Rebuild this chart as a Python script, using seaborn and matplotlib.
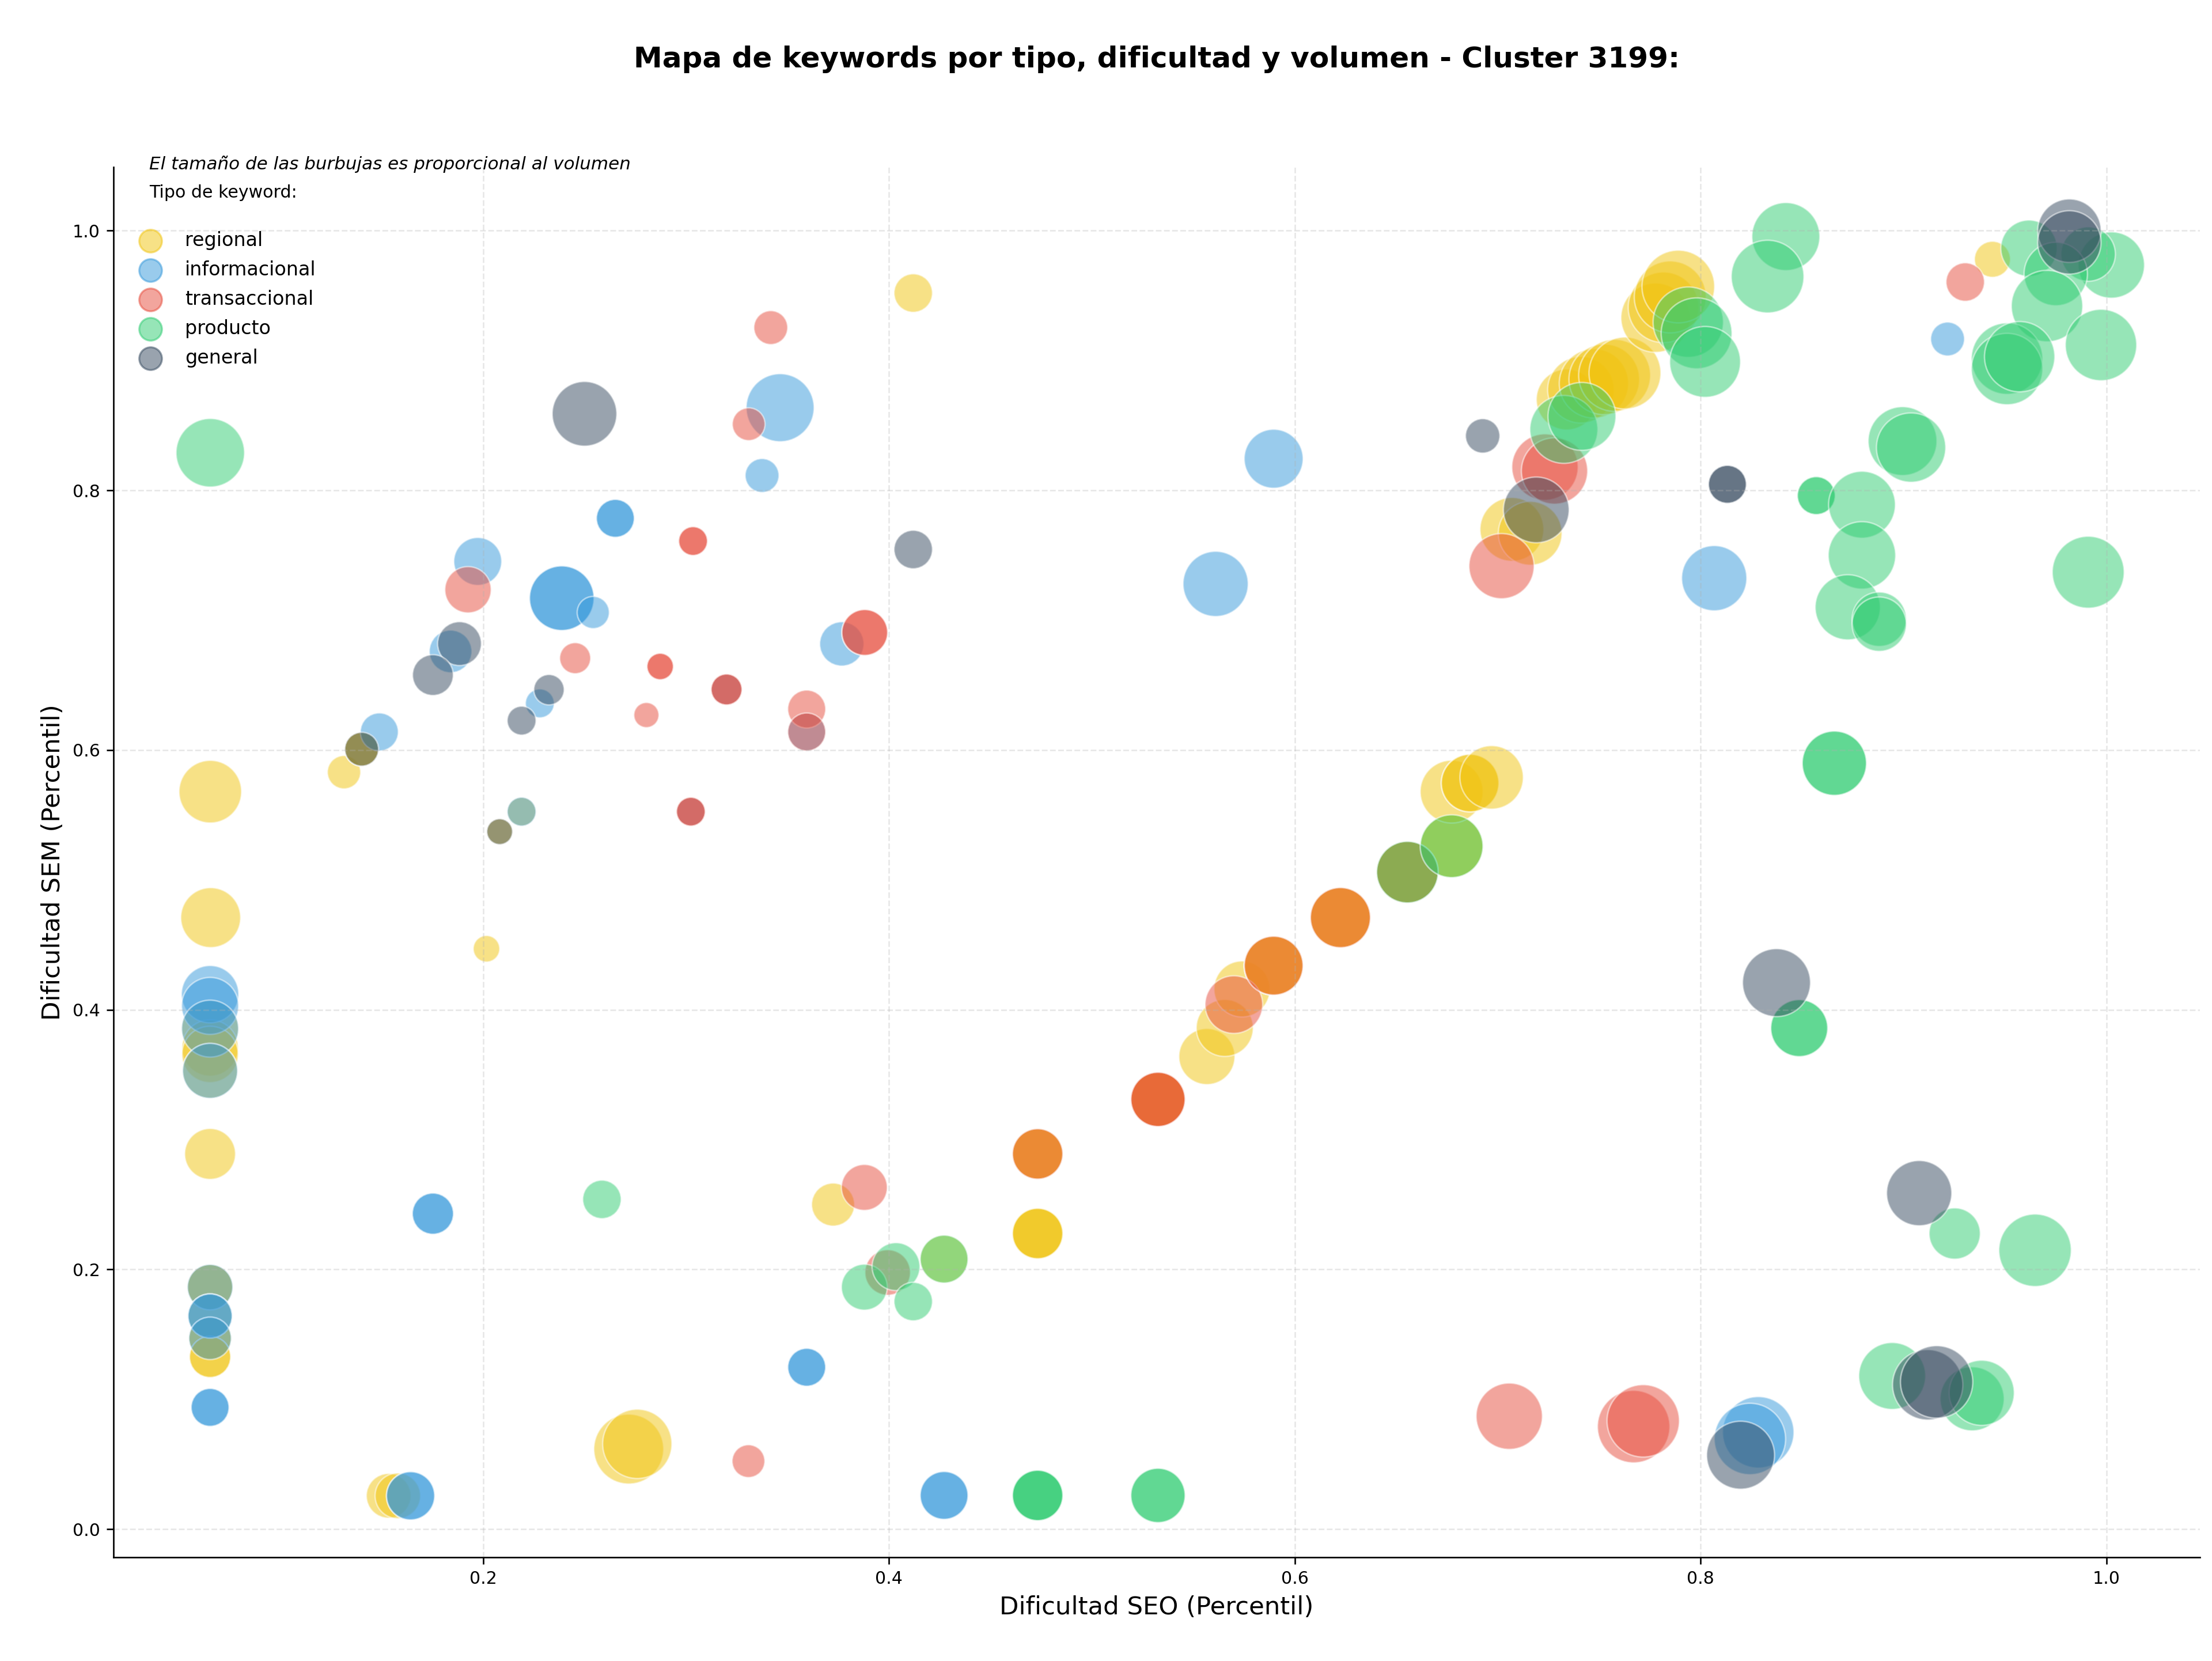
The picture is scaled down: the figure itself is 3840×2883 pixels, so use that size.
import pandas as pd
import numpy as np
import matplotlib.pyplot as plt
import seaborn as sns

tipos = ['regional', 'informacional', 'transaccional', 'producto', 'general']
colores = ['#f1c40f', '#3498db', '#e74c3c', '#2ecc71', '#34495e']

# regional
reg_seo = [0.412, 0.1315, 0.0656, 0.0658, 0.2017, 0.0655, 0.0655, 0.0655, 0.0655, 0.0655,
           0.0655, 0.0655, 0.0655, 0.0655, 0.0655, 0.0655, 0.0655, 0.1402, 0.1402, 0.2082,
           0.219, 0.1535, 0.158, 0.2718, 0.276, 0.3725, 0.4272, 0.4733, 0.4733, 0.4733,
           0.4733, 0.4733, 0.4733, 0.5326, 0.5326, 0.5326, 0.5567, 0.5655, 0.574, 0.5896,
           0.5896, 0.5896, 0.6225, 0.6225, 0.6225, 0.6555, 0.6555, 0.6555, 0.6773, 0.6773,
           0.6773, 0.6864, 0.6864, 0.697, 0.707, 0.716, 0.734, 0.741, 0.7474, 0.7525,
           0.7576, 0.7627, 0.7778, 0.7817, 0.785, 0.789, 0.9438]
reg_sem = [0.952, 0.583, 0.568, 0.471, 0.447, 0.3855, 0.3706, 0.3657, 0.353, 0.289,
           0.1864, 0.1864, 0.1642, 0.147, 0.147, 0.1327, 0.1327, 0.6007, 0.6007, 0.5372,
           0.5526, 0.0257, 0.0257, 0.0617, 0.0657, 0.25, 0.208, 0.2277, 0.2277, 0.2277,
           0.289, 0.289, 0.289, 0.331, 0.331, 0.331, 0.364, 0.386, 0.416, 0.434,
           0.434, 0.434, 0.471, 0.471, 0.471, 0.506, 0.506, 0.506, 0.526, 0.526,
           0.568, 0.5746, 0.5746, 0.579, 0.770, 0.767, 0.870, 0.8775, 0.8824, 0.8855,
           0.8886, 0.8904, 0.933, 0.941, 0.949, 0.957, 0.978]
reg_vol = [400, 300, 1060, 970, 190, 880, 860, 860, 820, 700,
           560, 560, 530, 490, 490, 460, 460, 310, 310, 180,
           225, 540, 560, 1320, 1300, 500, 620, 690, 690, 690,
           690, 690, 690, 800, 800, 800, 850, 880, 850, 940,
           940, 940, 980, 980, 980, 1030, 1030, 1030, 1070, 1070,
           1070, 900, 900, 1090, 1100, 1100, 1000, 1200, 1300, 1350,
           1400, 1400, 1300, 1350, 1400, 1430, 350]

# informacional
inf_seo = [0.3464, 0.3375, 0.5896, 0.561, 0.2652, 0.2652, 0.2388, 0.2388, 0.2543, 0.1974,
           0.184, 0.228, 0.1489, 0.3768, 0.3595, 0.32, 0.3024, 0.219, 0.0655, 0.0655,
           0.0655, 0.0655, 0.0655, 0.0655, 0.0655, 0.0655, 0.0655, 0.0655, 0.1753, 0.1753,
           0.1643, 0.1643, 0.3595, 0.3595, 0.4272, 0.4272, 0.8067, 0.9217, 0.8284, 0.8243]
inf_sem = [0.8637, 0.8115, 0.8244, 0.728, 0.7785, 0.7785, 0.717, 0.717, 0.706, 0.7453,
           0.676, 0.636, 0.614, 0.6818, 0.614, 0.6467, 0.5526, 0.5526, 0.412, 0.403,
           0.3855, 0.353, 0.1864, 0.1642, 0.1642, 0.147, 0.0938, 0.0938, 0.243, 0.243,
           0.0257, 0.0257, 0.1247, 0.1247, 0.026, 0.026, 0.7324, 0.9166, 0.0746, 0.0695]
inf_vol = [1250, 310, 940, 1150, 390, 390, 1130, 1130, 280, 620,
           490, 225, 390, 530, 390, 260, 225, 225, 890, 880,
           880, 820, 560, 530, 530, 490, 390, 390, 460, 460,
           630, 630, 390, 390, 620, 620, 1150, 310, 1380, 1380]

# transaccional
tra_seo = [0.3418, 0.3309, 0.3035, 0.3035, 0.1926, 0.3881, 0.3881, 0.2454, 0.2873, 0.2873,
           0.32, 0.32, 0.2805, 0.3595, 0.3595, 0.3024, 0.3024, 0.3308, 0.3879, 0.3994,
           0.4733, 0.5326, 0.5326, 0.57, 0.5896, 0.6225, 0.6555, 0.7233, 0.728, 0.7019,
           0.9304, 0.7057, 0.767, 0.7717]
tra_sem = [0.9254, 0.851, 0.761, 0.761, 0.7235, 0.6906, 0.6906, 0.6708, 0.6644, 0.6644,
           0.6467, 0.6467, 0.627, 0.6316, 0.614, 0.5526, 0.5526, 0.0524, 0.2632, 0.1977,
           0.289, 0.331, 0.331, 0.404, 0.434, 0.471, 0.506, 0.818, 0.815, 0.7417,
           0.9605, 0.087, 0.079, 0.0834]
tra_vol = [310, 290, 225, 225, 580, 570, 570, 260, 190, 190,
           260, 260, 170, 390, 390, 225, 225, 290, 570, 560,
           690, 800, 800, 900, 940, 980, 1030, 1190, 1190, 1150,
           400, 1190, 1420, 1420]

# producto
pro_seo = [0.0656, 0.2586, 0.3879, 0.4035, 0.412, 0.4272, 0.4733, 0.4733, 0.4733, 0.5326,
           0.5326, 0.6555, 0.6773, 0.7326, 0.7415, 0.7939, 0.798, 0.8022, 0.842, 0.833,
           0.857, 0.857, 0.8795, 0.8795, 0.8725, 0.888, 0.888, 0.8995, 0.9037, 0.9618,
           1.0024, 0.991, 0.975, 0.9707, 0.9973, 0.951, 0.951, 0.9572, 0.991, 0.8659,
           0.8659, 0.8486, 0.8486, 0.9252, 0.9648, 0.8944, 0.9338, 0.9385]
pro_sem = [0.829, 0.254, 0.1864, 0.2022, 0.1753, 0.208, 0.026, 0.026, 0.026, 0.026,
           0.026, 0.506, 0.526, 0.847, 0.857, 0.9296, 0.921, 0.899, 0.9955, 0.9647,
           0.796, 0.796, 0.789, 0.750, 0.710, 0.7008, 0.697, 0.838, 0.833, 0.9865,
           0.9736, 0.982, 0.9667, 0.942, 0.912, 0.9015, 0.8935, 0.903, 0.737, 0.5899,
           0.5899, 0.3859, 0.3859, 0.2277, 0.2148, 0.118, 0.1004, 0.105]
pro_vol = [1270, 400, 570, 620, 400, 620, 690, 690, 690, 800,
           800, 1030, 1070, 1250, 1250, 1340, 1360, 1360, 1250, 1430,
           390, 390, 1210, 1230, 1150, 800, 800, 1280, 1300, 860,
           1190, 800, 1090, 1380, 1380, 1380, 1380, 1340, 1400, 1120,
           1120, 880, 880, 710, 1420, 1210, 1110, 1150]

# general
gen_seo = [0.25, 0.412, 0.6926, 0.1884, 0.1753, 0.2325, 0.219, 0.1402, 0.2082, 0.8132,
           0.8132, 0.719, 0.9817, 0.9817, 0.8374, 0.9077, 0.9119, 0.9163, 0.8197]
gen_sem = [0.859, 0.7545, 0.842, 0.682, 0.6578, 0.6465, 0.6227, 0.6007, 0.5372, 0.8047,
           0.8047, 0.785, 1.0, 0.991, 0.4209, 0.2588, 0.1112, 0.1134, 0.057]
gen_vol = [1130, 400, 320, 520, 450, 250, 225, 310, 180, 390,
           390, 1170, 1090, 1090, 1250, 1150, 1340, 1420, 1250]

series = [(reg_seo, reg_sem, reg_vol), (inf_seo, inf_sem, inf_vol), (tra_seo, tra_sem, tra_vol),
          (pro_seo, pro_sem, pro_vol), (gen_seo, gen_sem, gen_vol)]
df = pd.concat([pd.DataFrame({'seo': s, 'sem': m, 'volumen': v, 'tipo': t})
                for t, (s, m, v) in zip(tipos, series)], ignore_index=True)

fig, ax = plt.subplots(figsize=(16, 12.0125), dpi=240)
fig.subplots_adjust(left=0.0514, right=0.9945, top=0.8994, bottom=0.0624)

vmin, vmax = df['volumen'].min(), df['volumen'].max()
sns.scatterplot(data=df, x='seo', y='sem', hue='tipo', palette=dict(zip(tipos, colores)),
                size='volumen', sizes=(vmin, vmax), size_norm=(vmin, vmax),
                alpha=0.5, edgecolor='white', linewidth=0.8, legend=False, ax=ax)

# leyenda
for t, c in zip(tipos, colores):
    ax.scatter([], [], color=c, alpha=0.5, s=140, label=t)
ax.legend(title='Tipo de keyword:\n', loc='upper left', frameon=False, fontsize=10,
          title_fontsize=9, labelspacing=0.54)

ax.text(0.017, 0.996, 'El tamaño de las burbujas es proporcional al volumen',
        transform=ax.transAxes, fontsize=9.3, style='italic', va='bottom')

ax.set_xlim(0.018, 1.046)
ax.set_ylim(-0.0217, 1.049)
ax.grid(True, linestyle='--', alpha=0.3)
ax.tick_params(labelsize=9)
ax.set_xlabel('Dificultad SEO (Percentil)', fontsize=13)
ax.set_ylabel('Dificultad SEM (Percentil)', fontsize=13)
ax.set_title('Mapa de keywords por tipo, dificultad y volumen - Cluster 3199:',
             fontsize=15, fontweight='bold', pad=52)
sns.despine(ax=ax)

fig.savefig('out.png', dpi=240)
